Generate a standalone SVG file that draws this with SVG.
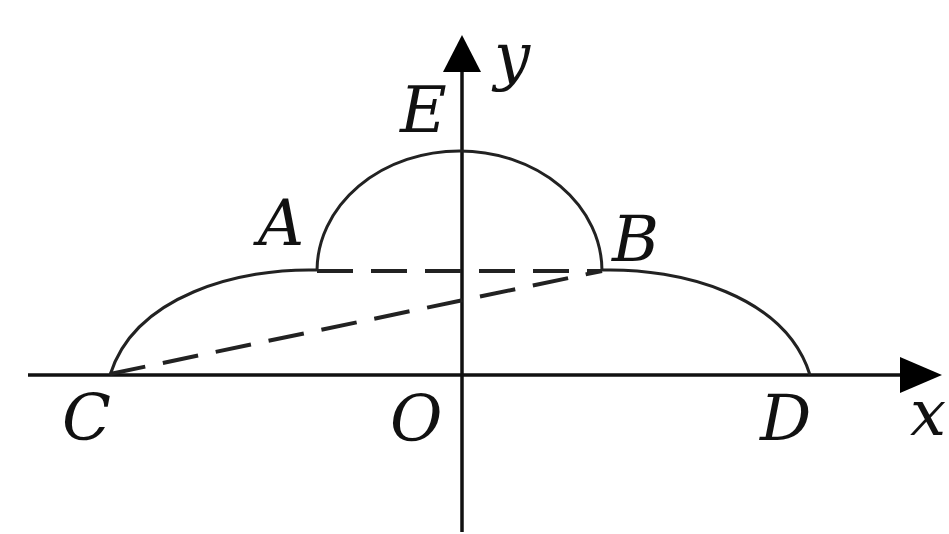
<svg xmlns="http://www.w3.org/2000/svg" width="949" height="534" viewBox="0 0 949 534">
<style>
.axis{stroke:#111;stroke-width:3.5;fill:none}
.curve{stroke:#222;stroke-width:3;fill:none}
.dash{stroke:#222;stroke-width:4;fill:none;stroke-dasharray:36 18}
.lbl{font-family:"DejaVu Serif",serif;font-style:italic;font-size:64px;fill:#111}
</style>
<rect width="949" height="534" fill="#fff"/>
<g id="axes">
<line class="axis" x1="28" y1="375" x2="905" y2="375"/>
<polygon points="942,375 900,357 900,393" fill="#000"/>
<line class="axis" x1="462" y1="532" x2="462" y2="68"/>
<polygon points="462,35 443,72 481,72" fill="#000"/>
</g>
<g id="curves">
<path class="curve" d="M317,271 A142.5,120 0 0 1 602,271"/>
<path class="curve" d="M110,375 C135,295 240,268 317,270"/>
<path class="curve" d="M602,270 C680,268 785,295 810,375"/>
</g>
<g id="connectors">
<line class="dash" x1="317" y1="271" x2="602" y2="271"/>
<line class="dash" x1="110" y1="374" x2="602" y2="271"/>
</g>
<g id="labels">
<text class="lbl" x="400" y="132">E</text>
<text class="lbl" x="494" y="78">y</text>
<text class="lbl" x="258" y="245">A</text>
<text class="lbl" x="612" y="261">B</text>
<text class="lbl" x="62" y="440">C</text>
<text class="lbl" x="390" y="441">O</text>
<text class="lbl" x="760" y="440">D</text>
<text class="lbl" x="910" y="435">x</text>
</g>
</svg>
